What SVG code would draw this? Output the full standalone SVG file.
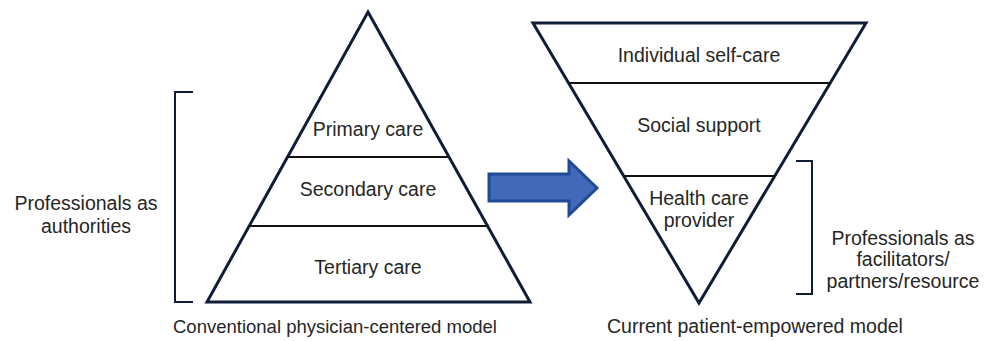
<svg xmlns="http://www.w3.org/2000/svg" width="985" height="341" viewBox="0 0 985 341">
<style>
.tri{fill:#fff;stroke:#0f1d36;stroke-width:3;stroke-linejoin:miter}
.div{stroke:#111;stroke-width:2}
.br{fill:none;stroke:#0f1d36;stroke-width:2}
text{font-family:"Liberation Sans",Arial,sans-serif;font-size:19.5px;fill:#262626;text-anchor:middle}
.cap{font-size:18.5px;text-anchor:start}
</style>
<rect width="985" height="341" fill="#fff"/>
<g id="left-pyramid">
<polygon class="tri" points="368,12 530,302 207,302"/>
<line class="div" x1="288" y1="157" x2="448" y2="157"/>
<line class="div" x1="249" y1="226" x2="487" y2="226"/>
<text x="368" y="136">Primary care</text>
<text x="368" y="196">Secondary care</text>
<text x="368" y="274">Tertiary care</text>
</g>
<g id="right-pyramid">
<polygon class="tri" points="533,23 866,23 699,303"/>
<line class="div" x1="569" y1="83" x2="830" y2="83"/>
<line class="div" x1="624" y1="176" x2="775" y2="176"/>
<text x="699" y="62">Individual self-care</text>
<text x="699" y="132">Social support</text>
<text x="699" y="205">Health care</text>
<text x="699" y="227">provider</text>
</g>
<g id="connectors">
<polygon points="489,174 569,174 569,161 597,188 569,215 569,201 489,201" fill="#4169b8" stroke="#1f4a94" stroke-width="3" stroke-linejoin="miter"/>
<path class="br" d="M193,92 H175 V302 H193"/>
<path class="br" d="M796,161 H812 V294 H796"/>
</g>
<g id="label-left">
<text x="86" y="210">Professionals as</text>
<text x="86" y="233">authorities</text>
</g>
<g id="label-right">
<text x="903" y="245">Professionals as</text>
<text x="903" y="266">facilitators/</text>
<text x="903" y="288">partners/resource</text>
</g>
<g id="captions">
<text class="cap" x="173" y="333">Conventional physician-centered model</text>
<text class="cap" x="607" y="333" style="font-size:19.5px">Current patient-empowered model</text>
</g>
</svg>
